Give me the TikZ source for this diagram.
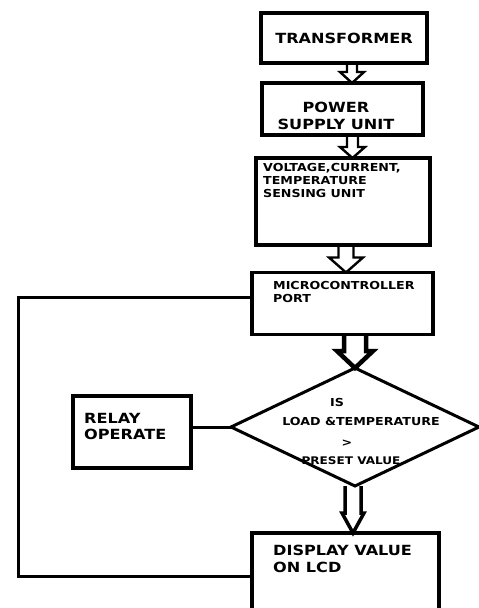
\documentclass[tikz,border=0pt]{standalone}
\usepackage{fontspec}
\newfontfamily\diafont{DejaVu Sans}[FakeStretch=1.15]
\usetikzlibrary{calc,shapes.geometric}
\tikzset{
	box/.style={draw,line width=3.2pt,inner sep=0pt,outer sep=0pt},
	decision/.style={draw,diamond,line width=3pt,inner sep=0pt,outer sep=0pt,minimum width=248pt,minimum height=118pt},
	conn/.style={line width=3pt},
	arrowline/.style={line width=2.4pt,line join=miter},
	bigtxt/.style={inner sep=0pt,align=left,font=\diafont\bfseries\fontsize{14}{16.5}\selectfont},
	smalltxt/.style={inner sep=0pt,align=left,font=\diafont\bfseries\fontsize{11}{13}\selectfont},
}
\newcommand{\hollowarrow}[7][]{%
	\draw[arrowline,#1] let \p1=($(#3)+(#4,0)$), \p2=(#2) in
		(\x1-#5pt,\y2) -- (\x1-#5pt,\y1+#7pt) -- (\x1-#6pt,\y1+#7pt) -- (\p1)
		-- (\x1+#6pt,\y1+#7pt) -- (\x1+#5pt,\y1+#7pt) -- (\x1+#5pt,\y2);}

\begin{document}
\begin{tikzpicture}[x=1pt,y=-1pt]
			\fill[white] (0,0) rectangle (479,608);
			\useasboundingbox (0,0) rectangle (479,608);

			\node[box,bigtxt,minimum width=166pt,minimum height=50pt] (trans) at (344,38) {TRANSFORMER};
			\node[box,minimum width=161pt,minimum height=52pt] (power) at (342.5,109) {};
			\node[bigtxt,align=center] (powertxt) at (336,116) {POWER\\SUPPLY UNIT};
			\node[box,minimum width=174pt,minimum height=87pt] (sense) at (343,201.5) {};
			\node[smalltxt,anchor=north west] (sensetxt) at (263,163) {VOLTAGE,CURRENT,\\TEMPERATURE\\SENSING UNIT};
			\node[box,minimum width=181pt,minimum height=62pt] (micro) at (342.5,303.5) {};
			\node[smalltxt,anchor=north west] (microtxt) at (273,281) {MICROCONTROLLER\\PORT};

			\node[decision] (dec) at (355,427) {};
			\node[smalltxt] (dis) at (337,402) {IS};
			\node[smalltxt] (dload) at (361,421) {LOAD \&TEMPERATURE};
			\node[smalltxt] (dgt) at (347,443) {>};
			\node[smalltxt,font=\diafont\bfseries\fontsize{10.5}{12}\selectfont] (dpre) at (351,461) {PRESET VALUE};

			\node[box,minimum width=118pt,minimum height=72pt] (relay) at (132,432) {};
			\node[bigtxt,anchor=north west] (relaytxt) at (84,413) {RELAY\\OPERATE};
			\node[box,minimum width=187pt,minimum height=80pt] (disp) at (345.5,573) {};
			\node[bigtxt,anchor=north west] (disptxt) at (273,545) {DISPLAY VALUE\\ON LCD};

			\hollowarrow{trans.south}{power.north}{9.5}{5}{12}{11}
			\hollowarrow{power.south}{sense.north}{9.5}{5.5}{12.5}{11}
			\hollowarrow{sense.south}{micro.north}{3.5}{7.5}{17}{15}
			\hollowarrow[line width=4.5pt]{micro.south}{dec.north}{0}{11}{18}{17}
			\hollowarrow[line width=3.5pt]{dec.south}{disp.north}{7.5}{8}{11}{20}

			\coordinate (fbtop) at (18,297);
			\coordinate (fbbot) at (18,576);
			\draw[conn] (micro.west |- fbtop) -- (fbtop) -- (fbbot) -- (disp.west |- fbbot);
			\draw[conn] (dec.west) -- (dec.west -| relay.east);
		\end{tikzpicture}
\end{document}
